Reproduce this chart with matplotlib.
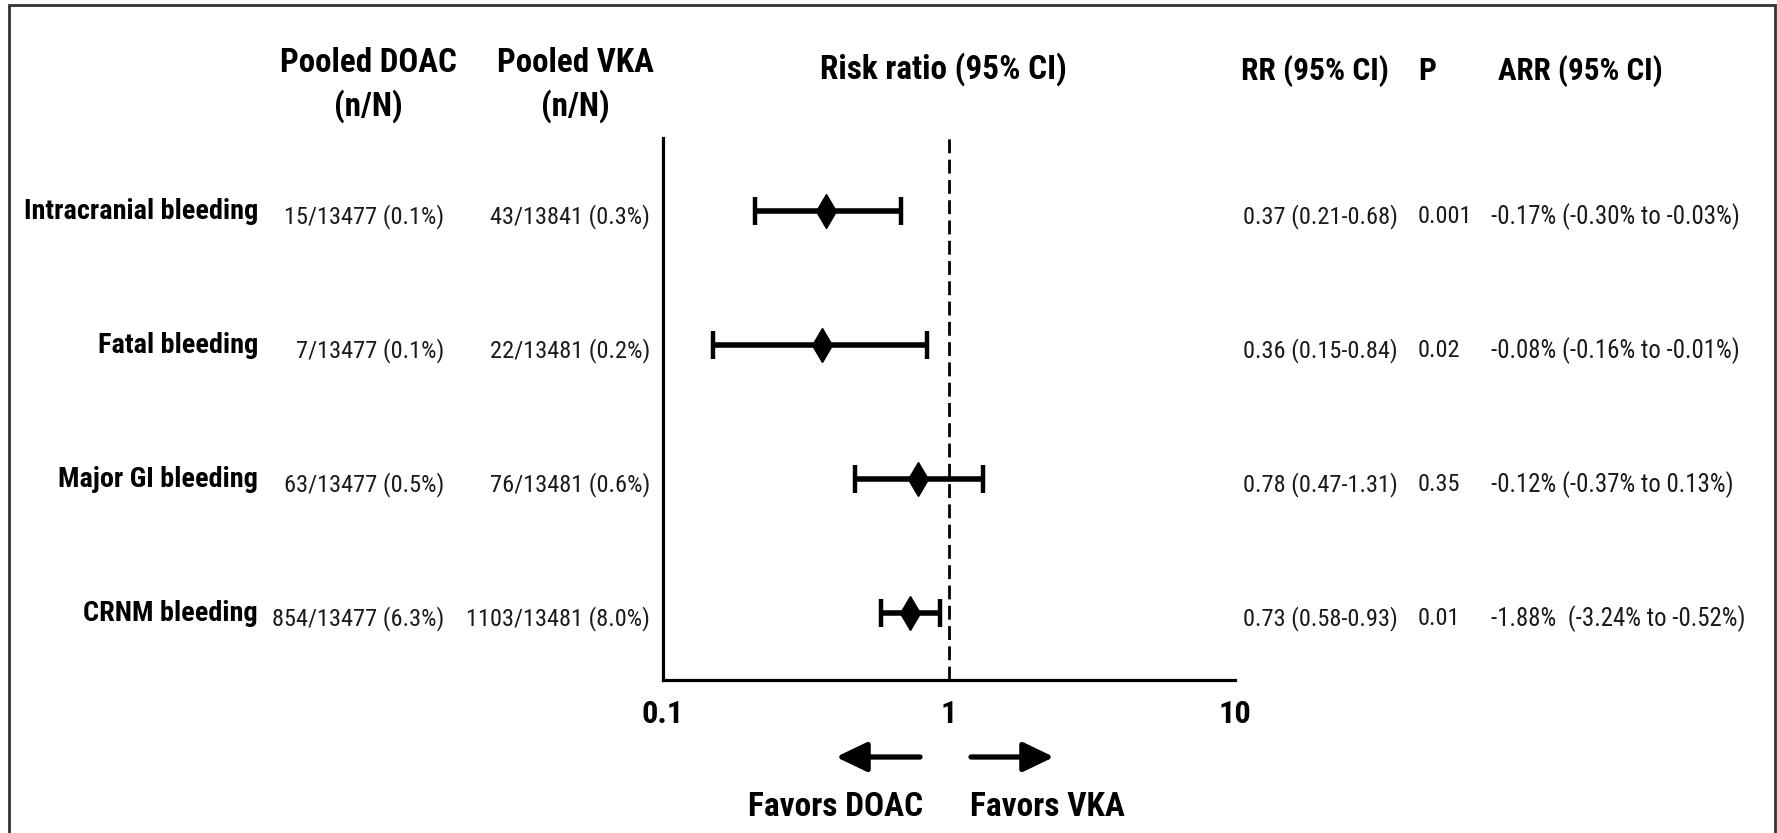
import numpy as np
import matplotlib
matplotlib.use("Agg")
import matplotlib.pyplot as plt
from matplotlib import font_manager as fm
from matplotlib.transforms import blended_transform_factory, ScaledTranslation
from matplotlib.patches import FancyArrowPatch, Rectangle

# ---- data -------------------------------------------------------------
outcomes = ["Intracranial bleeding", "Fatal bleeding", "Major GI bleeding", "CRNM bleeding"]
doac_counts = ["15/13477 (0.1%)", "7/13477 (0.1%)", "63/13477 (0.5%)", "854/13477 (6.3%)"]
vka_counts = ["43/13841 (0.3%)", "22/13481 (0.2%)", "76/13481 (0.6%)", "1103/13481 (8.0%)"]
rr = np.array([0.37, 0.36, 0.78, 0.73])
rr_lo = np.array([0.21, 0.15, 0.47, 0.58])
rr_hi = np.array([0.68, 0.84, 1.31, 0.93])
p_values = ["0.001", "0.02", "0.35", "0.01"]
arr_text = ["-0.17% (-0.30% to -0.03%)", "-0.08% (-0.16% to -0.01%)",
            "-0.12% (-0.37% to 0.13%)", "-1.88%  (-3.24% to -0.52%)"]
x_ticks = [0.1, 1, 10]
x_ticklabels = ["0.1", "1", "10"]

# ---- fonts: prefer a narrow sans, else scale regular sans down ------
names = {f.name for f in fm.fontManager.ttflist}
FAMILY, K = "Liberation Sans", 0.82
for fam, k in [("Liberation Sans Narrow", 1.0), ("Arial Narrow", 1.0),
               ("Roboto Condensed", 0.95)]:
    if fam in names:
        FAMILY, K = fam, k
        break
plt.rcParams["font.family"] = [FAMILY, "DejaVu Sans"]

W, H = 1777, 833
fig = plt.figure(figsize=(W / 100, H / 100), dpi=100)
fig.patch.set_facecolor("white")


def fx(px):
    return px / W


def fy(py):
    return 1 - py / H


# outer frame
fig.add_artist(Rectangle((fx(9), -0.05), fx(1775) - fx(9), fy(5) + 0.05,
                         transform=fig.transFigure, fill=False,
                         edgecolor="#333333", lw=2.0))

# ---- forest plot axes -------------------------------------------------
ax_left, ax_right, ax_top, ax_bot = 663, 1235, 138, 680
ax = fig.add_axes([fx(ax_left), fy(ax_bot), fx(ax_right) - fx(ax_left),
                   (ax_bot - ax_top) / H])
ax.set_xscale("log")
ax.set_xlim(0.1, 10)
ypos = np.arange(len(outcomes), 0, -1)
ax.set_ylim(0.5, 4.545)

for s in ["top", "right"]:
    ax.spines[s].set_visible(False)
for s in ["left", "bottom"]:
    ax.spines[s].set_linewidth(2.3)
    ax.spines[s].set_color("black")

ax.set_yticks([])
ax.set_xticks(x_ticks)
ax.set_xticklabels(x_ticklabels, fontsize=24.5 * K, fontweight="bold")
ax.minorticks_off()
ax.tick_params(axis="x", length=0, pad=14)

ax.axvline(1, color="black", lw=2.0, ls=(0, (5, 2.3)), zorder=1)

ax.errorbar(rr, ypos, xerr=[rr - rr_lo, rr_hi - rr], fmt="none",
            ecolor="black", elinewidth=4.0, capsize=10, capthick=3.2, zorder=3)
ax.plot(rr, ypos, ls="none", marker="d", ms=17, color="black", zorder=4)

# ---- table text ------------------------------------------------------
row_tr = blended_transform_factory(fig.transFigure, ax.transData)
num_tr = row_tr + ScaledTranslation(0, -4.2 / 72, fig.dpi_scale_trans)
TXT = "#1a1a1a"
VAL_FS = 18.5 * K

for i, yv in enumerate(ypos):
    fig.text(fx(258), yv, outcomes[i], transform=row_tr, ha="right",
             va="center", fontsize=21.4 * K, fontweight="bold", color="black")
    fig.text(fx(444), yv, doac_counts[i], transform=num_tr, ha="right",
             va="center", fontsize=VAL_FS, color=TXT)
    fig.text(fx(650), yv, vka_counts[i], transform=num_tr, ha="right",
             va="center", fontsize=VAL_FS, color=TXT)
    fig.text(fx(1243), yv, f"{rr[i]:.2f} ({rr_lo[i]:.2f}-{rr_hi[i]:.2f})",
             transform=num_tr, ha="left", va="center", fontsize=VAL_FS, color=TXT)
    fig.text(fx(1418), yv, p_values[i], transform=num_tr, ha="left",
             va="center", fontsize=VAL_FS, color=TXT)
    fig.text(fx(1491), yv, arr_text[i], transform=num_tr, ha="left",
             va="center", fontsize=VAL_FS * 1.02, color=TXT)

# column headers
hdr = dict(fontweight="bold", color="black", va="center")
fig.text(fx(368), fy(63), "Pooled DOAC", ha="center", fontsize=25 * K, **hdr)
fig.text(fx(368), fy(106), "(n/N)", ha="center", fontsize=25 * K, **hdr)
fig.text(fx(575), fy(63), "Pooled VKA", ha="center", fontsize=25 * K, **hdr)
fig.text(fx(575), fy(106), "(n/N)", ha="center", fontsize=25 * K, **hdr)
fig.text(fx(943), fy(69), "Risk ratio (95% CI)", ha="center", fontsize=25.2 * K, **hdr)
fig.text(fx(1241), fy(71), "RR (95% CI)", ha="left", fontsize=23.9 * K, **hdr)
fig.text(fx(1418), fy(71), "P", ha="left", fontsize=23.9 * K, **hdr)
fig.text(fx(1498), fy(71), "ARR (95% CI)", ha="left", fontsize=23.5 * K, **hdr)

# direction arrows and captions
for tail, tip in [(920, 836), (971, 1054)]:
    fig.add_artist(FancyArrowPatch((fx(tail), fy(757)), (fx(tip), fy(757)),
                                   transform=fig.transFigure,
                                   arrowstyle="-|>,head_length=1.25,head_width=0.6",
                                   mutation_scale=15, lw=3.8, color="black",
                                   capstyle="round", shrinkA=0, shrinkB=0))
fig.text(fx(836), fy(807), "Favors DOAC", ha="center", fontsize=25.3 * K, **hdr)
fig.text(fx(1047), fy(807), "Favors VKA", ha="center", fontsize=25.3 * K, **hdr)

fig.savefig("out.png", dpi=100, facecolor="white")
